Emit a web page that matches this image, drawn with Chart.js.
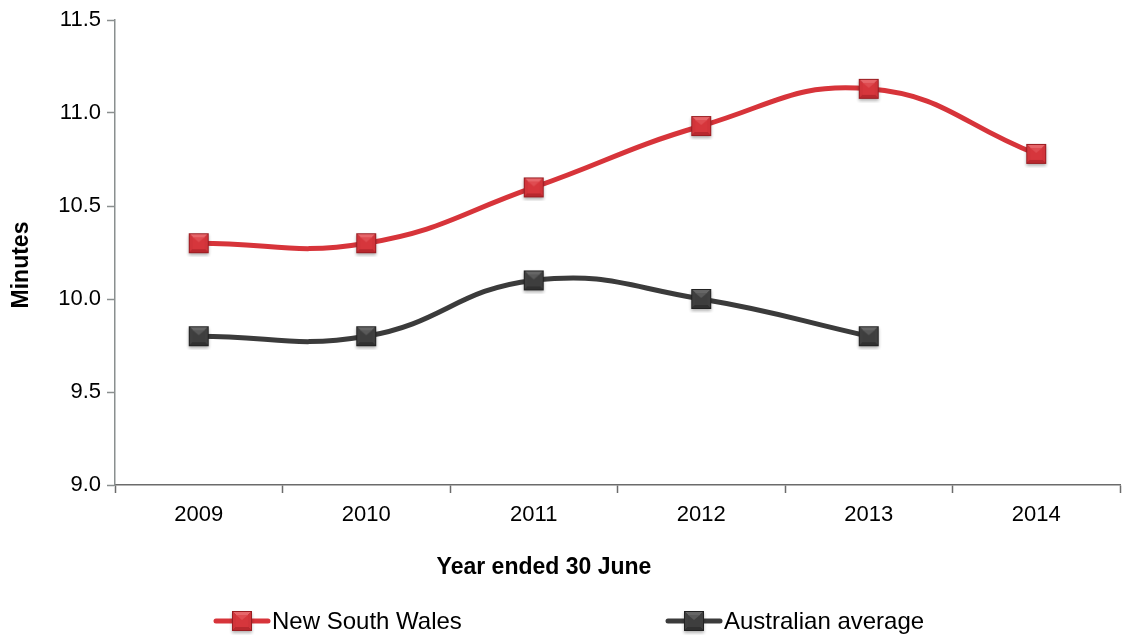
<!DOCTYPE html>
<html>
<head>
<meta charset="utf-8">
<script src="https://cdn.jsdelivr.net/npm/chart.js@4.4.0/dist/chart.umd.min.js"></script>
<style>
  html, body { margin: 0; padding: 0; background: #fff; }
  #wrap { position: relative; width: 1130px; height: 637px; }
  #legend { position: absolute; left: 0; top: 606px; width: 1130px; height: 30px;
            font-family: "Liberation Sans", Arial, sans-serif; font-size: 24px; color: #000; }
  .item { position: absolute; top: 0; display: flex; align-items: center; height: 30px; }
  .item canvas { margin-right: 1px; }
</style>
</head>
<body>
<div id="wrap">
  <canvas id="chart"></canvas>
  <div id="legend"></div>
</div>
<script>
const years = ['2009', '2010', '2011', '2012', '2013', '2014'];
const nswValues = [10.3, 10.3, 10.6, 10.93, 11.13, 10.78];
const ausValues = [9.8, 9.8, 10.1, 10.0, 9.8, null];
const seriesNames = ['New South Wales', 'Australian average'];
const xTitle = 'Year ended 30 June';
const yTitle = 'Minutes';

const FONT = '"Liberation Sans", Arial, sans-serif';

// bevelled square marker, like the Excel one
function makeMarker(c) {
    const s = 20, pad = 4;
    const cv = document.createElement('canvas');
    cv.width = s + pad * 2;
    cv.height = s + pad * 2;
    const g = cv.getContext('2d');
    const x0 = pad, y0 = pad;
    g.shadowColor = 'rgba(0,0,0,0.3)';
    g.shadowBlur = 3;
    g.shadowOffsetY = 2;
    g.fillStyle = c.edge;
    g.fillRect(x0, y0, s, s);
    g.shadowColor = 'transparent';
    const poly = (pts, col) => {
        g.beginPath();
        pts.forEach((p, i) => i ? g.lineTo(p[0], p[1]) : g.moveTo(p[0], p[1]));
        g.closePath();
        g.fillStyle = col;
        g.fill();
    };
    const a = 1, b = 4;
    poly([[x0 + a, y0 + a], [x0 + s - a, y0 + a], [x0 + s - b, y0 + b], [x0 + b, y0 + b]], c.light);
    poly([[x0 + a, y0 + a], [x0 + b, y0 + b], [x0 + b, y0 + s - b], [x0 + a, y0 + s - a]], c.mid);
    poly([[x0 + s - a, y0 + a], [x0 + s - b, y0 + b], [x0 + s - b, y0 + s - b], [x0 + s - a, y0 + s - a]], c.mid);
    poly([[x0 + a, y0 + s - a], [x0 + b, y0 + s - b], [x0 + s - b, y0 + s - b], [x0 + s - a, y0 + s - a]], c.dark);
    g.fillStyle = c.face;
    g.fillRect(x0 + b, y0 + b, s - 2 * b, s - 2 * b);
    // soft light triangle on the face
    poly([[x0 + b, y0 + b], [x0 + s - b, y0 + b], [x0 + s / 2, y0 + s / 2 - 1]], c.tri);
    return cv;
}

const redMarker = makeMarker({ edge: '#9a1d22', light: '#e7666a', mid: '#d1343a', dark: '#b8282e', face: '#d6363c', tri: '#df4c51' });
const greyMarker = makeMarker({ edge: '#222222', light: '#666666', mid: '#404040', dark: '#303030', face: '#3e3e3e', tri: '#595959' });

const axisTitles = {
    id: 'axisTitles',
    afterDraw(chart) {
        const ctx = chart.ctx;
        ctx.save();
        ctx.fillStyle = '#000';
        ctx.textAlign = 'center';
        ctx.textBaseline = 'middle';
        ctx.font = 'bold 23px ' + FONT;
        ctx.fillText(xTitle, 544, 568);
        ctx.translate(22, 265);
        ctx.rotate(-Math.PI / 2);
        ctx.font = 'bold 23px ' + FONT;
        ctx.fillText(yTitle, 0, 0);
        ctx.restore();
    }
};

const ctx = document.getElementById('chart').getContext('2d');
const chart = new Chart(ctx, {
    type: 'line',
    data: {
        labels: years,
        datasets: [{
            label: seriesNames[0],
            data: nswValues,
            borderColor: '#d7343a',
            borderWidth: 5,
            tension: 0.45,
            pointStyle: redMarker,
            marker: redMarker
        }, {
            label: seriesNames[1],
            data: ausValues,
            borderColor: '#3b3b3b',
            borderWidth: 5,
            tension: 0.45,
            pointStyle: greyMarker,
            marker: greyMarker
        }]
    },
    options: {
        responsive: true,
        maintainAspectRatio: false,
        animation: false,
        layout: { padding: { top: 20, right: 10, bottom: 0, left: 0 } },
        plugins: {
            legend: { display: false },
            tooltip: { enabled: false }
        },
        scales: {
            x: {
                offset: true,
                grid: { offset: true, drawOnChartArea: false, tickLength: 8, tickColor: '#6b6b6b', tickWidth: 1.5 },
                border: { color: '#6b6b6b', width: 1.5 },
                ticks: { color: '#000', font: { family: FONT, size: 22 }, padding: 9, maxRotation: 0 },
                afterFit(scale) { scale.height = 152; }
            },
            y: {
                min: 9,
                max: 11.5,
                grid: { drawOnChartArea: false, tickLength: 8, tickColor: '#8a8f8f', tickWidth: 1.5 },
                border: { color: '#8a8f8f', width: 1.5 },
                ticks: {
                    stepSize: 0.5,
                    color: '#000',
                    font: { family: FONT, size: 22 },
                    padding: 6,
                    callback: v => v.toFixed(1)
                },
                afterFit(scale) { scale.width = 115; }
            }
        }
    },
    plugins: [axisTitles]
});

// legend built from the datasets
const legendPos = [213, 665];
const legendEl = document.getElementById('legend');
chart.data.datasets.forEach((ds, i) => {
    const item = document.createElement('div');
    item.className = 'item';
    item.style.left = legendPos[i] + 'px';
    const sym = document.createElement('canvas');
    sym.width = 58;
    sym.height = 30;
    const g = sym.getContext('2d');
    g.strokeStyle = ds.borderColor;
    g.lineWidth = 5;
    g.lineCap = 'round';
    g.beginPath();
    g.moveTo(3, 15);
    g.lineTo(55, 15);
    g.stroke();
    g.drawImage(ds.marker, 29 - ds.marker.width / 2, 15 - ds.marker.height / 2);
    item.appendChild(sym);
    const txt = document.createElement('span');
    txt.textContent = ds.label;
    item.appendChild(txt);
    legendEl.appendChild(item);
});
</script>
</body>
</html>
